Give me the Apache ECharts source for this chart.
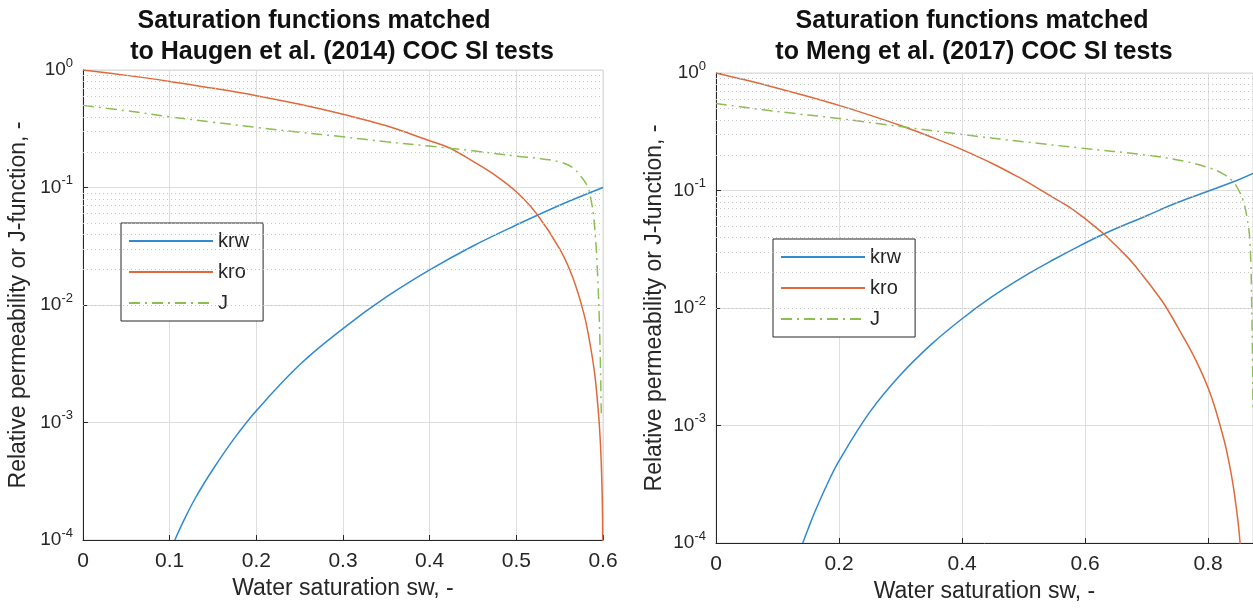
<!DOCTYPE html>
<html>
<head>
<meta charset="utf-8">
<script src="https://cdn.jsdelivr.net/npm/echarts@6/dist/echarts.min.js"></script>
<style>
  html, body { margin: 0; padding: 0; background: #fff; }
  #chart { width: 1253px; height: 608px; }
</style>
</head>
<body>
<div id="chart"></div>
<script>
// Haugen et al. (2014) panel
const swKrwL = [0.106, 0.115, 0.13, 0.15, 0.175, 0.2, 0.25, 0.3, 0.35, 0.4, 0.45, 0.5, 0.55, 0.6];
const krwL   = [1e-4, 1.4e-4, 2.3e-4, 4e-4, 7.4e-4, 1.26e-3, 3.1e-3, 6.3e-3, 1.17e-2, 1.99e-2, 3.18e-2, 4.8e-2, 7.07e-2, 0.1];
const swKroL = [0, 0.05, 0.1, 0.15, 0.2, 0.25, 0.3, 0.35, 0.4, 0.423, 0.45, 0.475, 0.5, 0.524, 0.55, 0.565, 0.578, 0.585, 0.59, 0.593, 0.596, 0.598, 0.5995, 0.6];
const kroL   = [1, 0.9, 0.8, 0.7, 0.605, 0.511, 0.42, 0.335, 0.25, 0.217, 0.167, 0.128, 0.092, 0.059, 0.03, 0.0172, 0.0084, 0.0047, 0.00275, 0.0017, 0.0009, 0.00045, 0.00015, 0.00001];
const swJL   = [0, 0.05, 0.1, 0.15, 0.2, 0.25, 0.3, 0.35, 0.4, 0.45, 0.5, 0.53, 0.55, 0.565, 0.573, 0.578, 0.583, 0.586, 0.589, 0.591, 0.593, 0.596, 0.598];
const jL     = [0.5, 0.45, 0.4, 0.36, 0.325, 0.295, 0.27, 0.245, 0.225, 0.205, 0.185, 0.175, 0.165, 0.148, 0.128, 0.115, 0.099, 0.08, 0.058, 0.04, 0.024, 0.0065, 0.0012];

// Meng et al. (2017) panel
const swKrwR = [0.141, 0.15, 0.16, 0.18, 0.2, 0.25, 0.3, 0.35, 0.4, 0.45, 0.5, 0.55, 0.592, 0.634, 0.7, 0.75, 0.803, 0.84, 0.873];
const krwR   = [1e-4, 1.33e-4, 1.8e-4, 3.1e-4, 5e-4, 1.3e-3, 2.7e-3, 4.9e-3, 8.1e-3, 1.26e-2, 1.85e-2, 2.6e-2, 3.4e-2, 4.35e-2, 6.1e-2, 7.9e-2, 0.1, 0.118, 0.14];
const swKroR = [0, 0.05, 0.1, 0.15, 0.2, 0.25, 0.3, 0.35, 0.4, 0.45, 0.5, 0.52, 0.55, 0.572, 0.592, 0.613, 0.634, 0.67, 0.685, 0.7, 0.715, 0.73, 0.754, 0.78, 0.803, 0.82, 0.831, 0.842, 0.852, 0.858];
const kroR   = [1, 0.866, 0.743, 0.631, 0.53, 0.438, 0.357, 0.285, 0.223, 0.169, 0.123, 0.107, 0.086, 0.0735, 0.062, 0.0508, 0.041, 0.0267, 0.0216, 0.0172, 0.01355, 0.0105, 0.0064, 0.0036, 0.0019, 0.00098, 0.00058, 0.00028, 0.0001, 0.00002];
const swJR   = [0, 0.1, 0.2, 0.3, 0.4, 0.5, 0.592, 0.7, 0.76, 0.803, 0.825, 0.84, 0.85, 0.857, 0.863, 0.868, 0.871, 0.873];
const jR     = [0.55, 0.47, 0.41, 0.35, 0.3, 0.26, 0.23, 0.2, 0.178, 0.155, 0.138, 0.12, 0.1, 0.082, 0.06, 0.037, 0.01, 0.0014];

const titlesL = ['Saturation functions matched', 'to Haugen et al. (2014) COC SI tests'];
const titlesR = ['Saturation functions matched', 'to Meng et al. (2017) COC SI tests'];
const legendNames = ['krw', 'kro', 'J'];

const font = "'Liberation Sans', Arial, Helvetica, sans-serif";
const ink = '#262626';
const colors = { krw: '#2f8ad0', kro: '#e0693a', J: '#8dbe52' };

// dotted minor grid at 2..9 x 10^k
const minorTicks = [];
for (let e = -4; e < 0; e++) {
  for (let k = 2; k <= 9; k++) minorTicks.push(+(k * Math.pow(10, e)).toPrecision(3));
}

const pairs = (xs, ys) => xs.map((x, i) => [x, ys[i]]);

const yLabel = v => '{b|10}{s|' + Math.round(Math.log10(v)) + '}';

function xAxis(gi, max, interval, showMax) {
  return {
    type: 'value', gridIndex: gi, min: 0, max: max, interval: interval,
    name: 'Water saturation sw, -', nameLocation: 'middle', nameGap: 37,
    nameTextStyle: { fontFamily: font, fontSize: 23, color: ink },
    axisLine: { show: true, lineStyle: { color: ink, width: 1 } },
    axisTick: { show: true, inside: true, length: 5, lineStyle: { color: ink } },
    axisLabel: { fontFamily: font, fontSize: 21, color: ink, margin: 11, showMaxLabel: showMax },
    splitLine: { show: true, lineStyle: { color: '#dedede', width: 1 } }
  };
}

function yAxis(gi, gap) {
  return {
    type: 'log', gridIndex: gi, min: 1e-4, max: 1, logBase: 10,
    name: 'Relative permeability or J-function, -', nameLocation: 'middle', nameGap: gap, nameRotate: 90,
    nameTextStyle: { fontFamily: font, fontSize: 23, color: ink },
    axisLine: { show: true, lineStyle: { color: ink, width: 1 } },
    axisTick: { show: true, inside: true, length: 5, lineStyle: { color: ink } },
    axisLabel: {
      formatter: yLabel, margin: 10,
      rich: {
        b: { fontFamily: font, fontSize: 19, color: ink, lineHeight: 19, padding: [4, 0, 4, 0] },
        s: { fontFamily: font, fontSize: 13, color: ink, lineHeight: 13, padding: [0, 0, 14, 0] }
      }
    },
    splitLine: { show: true, lineStyle: { color: '#dedede', width: 1 } }
  };
}

function curve(name, xs, ys, gi) {
  return {
    name: name, type: 'line', xAxisIndex: gi, yAxisIndex: gi,
    data: pairs(xs, ys), symbol: 'none', showSymbol: false,
    smooth: 0.4, clip: true, z: 3,
    lineStyle: { color: colors[name], width: 1.5, type: name === 'J' ? [11, 5, 2, 5] : 'solid' },
    itemStyle: { color: colors[name] }
  };
}

function minorGrid(gi) {
  return {
    type: 'line', xAxisIndex: gi, yAxisIndex: gi, data: [], silent: true, z: 1,
    markLine: {
      silent: true, symbol: 'none', animation: false, label: { show: false },
      lineStyle: { color: '#c4c4c4', width: 1, type: [1, 3] },
      data: minorTicks.map(v => ({ yAxis: v }))
    }
  };
}

function legend(left, top) {
  return {
    left: left, top: top, orient: 'vertical', data: legendNames, selectedMode: false,
    itemWidth: 84, itemHeight: 14, itemGap: 11, padding: [8, 14, 8, 7],
    borderColor: ink, borderWidth: 1, backgroundColor: '#fff',
    itemStyle: { opacity: 0 },
    textStyle: { fontFamily: font, fontSize: 20, color: ink, lineHeight: 20 }
  };
}

function title(text, cx, top) {
  return {
    text: text, left: cx, top: top, textAlign: 'center', padding: 0,
    textStyle: { fontFamily: font, fontSize: 25, fontWeight: 'bold', color: '#111' }
  };
}

const chart = echarts.init(document.getElementById('chart'));
chart.setOption({
  animation: false,
  backgroundColor: '#fff',
  title: [
    title(titlesL[0], 314, 9), title(titlesL[1], 342, 40),
    title(titlesR[0], 972, 9), title(titlesR[1], 974, 40)
  ],
  grid: [
    { left: 83, top: 70, width: 520, height: 470, show: true, borderColor: '#d6d6d6', borderWidth: 1 },
    { left: 716, top: 73, width: 537, height: 470, show: true, borderColor: '#d6d6d6', borderWidth: 1 }
  ],
  legend: [legend(121, 223), legend(773, 239)],
  xAxis: [xAxis(0, 0.6, 0.1, true), xAxis(1, 0.873, 0.2, false)],
  yAxis: [yAxis(0, 53), yAxis(1, 50)],
  series: [
    minorGrid(0),
    curve('krw', swKrwL, krwL, 0),
    curve('kro', swKroL, kroL, 0),
    curve('J', swJL, jL, 0),
    minorGrid(1),
    curve('krw', swKrwR, krwR, 1),
    curve('kro', swKroR, kroR, 1),
    curve('J', swJR, jR, 1)
  ]
});
window.addEventListener('resize', () => chart.resize());
</script>
</body>
</html>
